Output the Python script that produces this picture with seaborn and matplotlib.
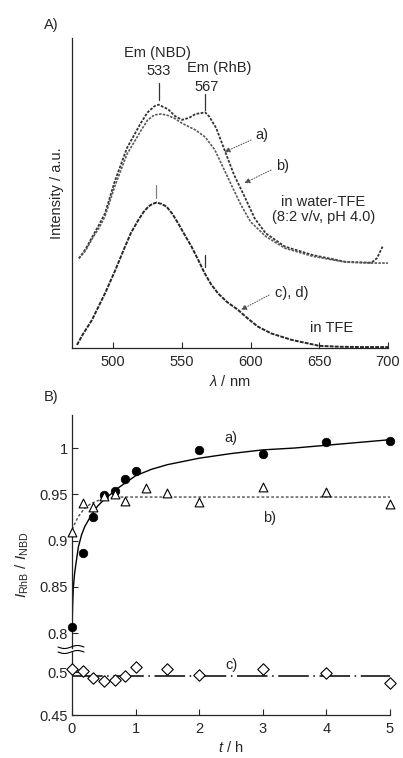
"""
Fluorescence spectra (A) and RhB/NBD intensity ratio vs time (B)
"""

import numpy as np
import pandas as pd
import matplotlib
matplotlib.use("Agg")
import matplotlib.pyplot as plt
import seaborn as sns

# ============================================================================
# DATA
# ============================================================================

# Panel A - emission spectra in water-TFE (intensity in arbitrary units)
wl_a = [475, 480, 485, 490, 494, 501, 510, 520, 525, 530, 533, 540, 545, 550, 555,
        560, 567, 570, 575, 581, 588, 595, 603, 611, 625, 645, 669, 688, 692, 696]
int_a = [0.289, 0.32, 0.36, 0.40, 0.434, 0.536, 0.645, 0.725, 0.76, 0.78, 0.785,
         0.77, 0.748, 0.736, 0.742, 0.755, 0.760, 0.746, 0.709, 0.639, 0.558, 0.494,
         0.418, 0.37, 0.327, 0.30, 0.278, 0.275, 0.29, 0.327]

wl_b = [475, 480, 485, 490, 494, 501, 510, 520, 525, 530, 535, 540, 545, 550, 555,
        560, 567, 574, 578, 586, 593, 600, 611, 625, 645, 669, 688, 700]
int_b = [0.289, 0.315, 0.355, 0.39, 0.425, 0.52, 0.625, 0.70, 0.735, 0.752, 0.755,
         0.75, 0.74, 0.725, 0.714, 0.703, 0.68, 0.639, 0.601, 0.526, 0.461, 0.407,
         0.36, 0.322, 0.296, 0.277, 0.274, 0.274]

# Panel A - emission spectra in TFE
wl_tfe = [473.6, 478, 484.5, 490, 494, 501.4, 508.6, 513, 518.3, 522, 525.5, 528.5,
          531.6, 535, 538.8, 543, 547.3, 552, 557, 562, 566.6, 571, 576.3, 583,
          590.8, 598, 605.3, 615, 630, 650, 665, 680, 700]
int_cd = [0.01, 0.045, 0.09, 0.14, 0.176, 0.25, 0.327, 0.372, 0.413, 0.438, 0.456,
          0.465, 0.469, 0.465, 0.456, 0.433, 0.402, 0.365, 0.327, 0.283, 0.241,
          0.207, 0.176, 0.148, 0.123, 0.095, 0.069, 0.047, 0.026, 0.007, 0.004,
          0.003, 0.003]

# Panel B - measured ratios
t_a = [0, 0.17, 0.33, 0.5, 0.67, 0.83, 1.0, 2, 3, 4, 5]
ratio_a = [0.807, 0.887, 0.925, 0.949, 0.954, 0.966, 0.975, 0.998, 0.993, 1.007, 1.008]

t_b = [0, 0.17, 0.33, 0.5, 0.67, 0.83, 1.17, 1.5, 2, 3, 4, 5]
ratio_b = [0.909, 0.941, 0.936, 0.948, 0.950, 0.943, 0.957, 0.951, 0.942, 0.958, 0.952, 0.940]

t_c = [0, 0.17, 0.33, 0.5, 0.67, 0.83, 1.0, 1.5, 2, 3, 4, 5]
ratio_c = [0.503, 0.501, 0.493, 0.489, 0.491, 0.495, 0.506, 0.503, 0.496, 0.503, 0.499, 0.487]

# Panel B - fitted curves
fit_t_a = [0, 0.01, 0.02, 0.04, 0.06, 0.1, 0.15, 0.2, 0.3, 0.4, 0.5, 0.75, 1, 1.25,
           1.5, 2, 2.5, 3, 3.5, 4, 4.5, 5]
fit_a = [0.80, 0.83, 0.848, 0.864, 0.874, 0.893, 0.906, 0.915, 0.927, 0.937, 0.944,
         0.958, 0.970, 0.977, 0.982, 0.989, 0.994, 0.998, 1.0, 1.003, 1.006, 1.009]

fit_t_b = [0, 0.1, 0.2, 0.3, 0.4, 0.5, 0.7, 1, 2, 3, 4, 5]
fit_b = [0.912, 0.926, 0.935, 0.940, 0.943, 0.945, 0.947, 0.947, 0.947, 0.947, 0.947, 0.947]

fit_t_c = [0, 5]
fit_c = [0.4957, 0.4957]

# ============================================================================
# STYLE
# ============================================================================

sns.set_theme(style="ticks")
plt.rcParams["font.family"] = ["Liberation Sans", "DejaVu Sans"]
plt.rcParams["mathtext.fontset"] = "custom"
plt.rcParams["mathtext.rm"] = "Liberation Sans"
plt.rcParams["mathtext.it"] = "Liberation Sans:italic"
plt.rcParams["font.size"] = 10.5
plt.rcParams["axes.linewidth"] = 0.9
plt.rcParams["xtick.direction"] = "in"
plt.rcParams["ytick.direction"] = "in"

FS = 10.5
W, H = 403, 758


def px_box(left, top, right, bottom):
    """axes rectangle from pixel edges"""
    return [left / W, 1 - bottom / H, (right - left) / W, (bottom - top) / H]


fig = plt.figure(figsize=(W / 100, H / 100), dpi=100)

# ============================================================================
# PANEL A
# ============================================================================

axA = fig.add_axes(px_box(72, 38, 388, 348))
df_a = pd.DataFrame({"wl": wl_a, "val": int_a})
df_b = pd.DataFrame({"wl": wl_b, "val": int_b})
df_cd = pd.DataFrame({"wl": wl_tfe, "val": int_cd})

sns.lineplot(data=df_a, x="wl", y="val", ax=axA, color="0.2", lw=1.3,
             linestyle=(0, (1.5, 0.8)))
sns.lineplot(data=df_b, x="wl", y="val", ax=axA, color="0.35", lw=1.2,
             linestyle=(0, (1.5, 0.8)))
sns.lineplot(data=df_cd, x="wl", y="val", ax=axA, color="0.15", lw=1.4,
             linestyle=(0, (2, 0.6)))

axA.set_xlim(470, 700)
axA.set_ylim(0, 1)
axA.set_xticks([500, 550, 600, 650, 700])
axA.set_yticks([])
axA.tick_params(axis="x", labelsize=FS, length=4, width=0.8, pad=5)
sns.despine(ax=axA)
axA.set_xlabel(r"$\lambda$ / nm", fontsize=FS, labelpad=4)
axA.set_ylabel("Intensity / a.u.", fontsize=FS, labelpad=6)

# peak markers and labels
axA.plot([533, 533], [0.80, 0.855], color="0.2", lw=0.9)
axA.plot([567, 567], [0.768, 0.82], color="0.2", lw=0.9)
axA.plot([531, 531], [0.484, 0.526], color="0.5", lw=0.9)
axA.plot([567, 567], [0.261, 0.30], color="0.2", lw=0.9)
axA.text(532.5, 0.952, "Em (NBD)", ha="center", va="center", fontsize=FS)
axA.text(533, 0.892, "533", ha="center", va="center", fontsize=FS)
axA.text(577, 0.902, "Em (RhB)", ha="center", va="center", fontsize=FS)
axA.text(568, 0.842, "567", ha="center", va="center", fontsize=FS)

arrow = dict(arrowstyle="-|>", color="0.3", lw=0.7, linestyle=":",
             mutation_scale=8, shrinkA=0, shrinkB=0)
axA.annotate("", xy=(580.9, 0.632), xytext=(600.4, 0.671), arrowprops=arrow)
axA.annotate("", xy=(595.4, 0.532), xytext=(614.9, 0.574), arrowprops=arrow)
axA.annotate("", xy=(593, 0.123), xytext=(613.5, 0.171), arrowprops=arrow)
axA.text(608, 0.687, "a)", ha="center", va="center", fontsize=FS)
axA.text(623, 0.587, "b)", ha="center", va="center", fontsize=FS)
axA.text(653, 0.471, "in water-TFE", ha="center", va="center", fontsize=FS)
axA.text(653, 0.423, "(8:2 v/v, pH 4.0)", ha="center", va="center", fontsize=FS)
axA.text(630, 0.177, "c), d)", ha="center", va="center", fontsize=FS)
axA.text(659, 0.064, "in TFE", ha="center", va="center", fontsize=FS)

fig.text(44 / W, 1 - 25 / H, "A)", fontsize=FS, va="center")

# ============================================================================
# PANEL B (broken y axis)
# ============================================================================

axB = fig.add_axes(px_box(72, 415, 390, 648))
axC = fig.add_axes(px_box(72, 652, 390, 715), sharex=axB)

sns.lineplot(x=fit_t_a, y=fit_a, ax=axB, color="black", lw=1.0)
sns.lineplot(x=fit_t_b, y=fit_b, ax=axB, color="0.3", lw=1.0,
             linestyle=(0, (2, 1.5)))
sns.scatterplot(x=t_a, y=ratio_a, ax=axB, marker="o", s=38, color="black",
                edgecolor="black", linewidth=0.5, clip_on=False, zorder=5)
sns.scatterplot(x=t_b, y=ratio_b, ax=axB, marker="^", s=40, facecolor="white",
                edgecolor="black", linewidth=0.8, clip_on=False, zorder=5)

sns.lineplot(x=fit_t_c, y=fit_c, ax=axC, color="black", lw=1.1,
             linestyle=(0, (20, 3, 1, 3)))
sns.scatterplot(x=t_c, y=ratio_c, ax=axC, marker="D", s=34, facecolor="white",
                edgecolor="black", linewidth=0.8, clip_on=False, zorder=5)

axB.set_xlim(0, 5)
axB.set_ylim(0.7838, 1.0357)
axC.set_ylim(0.45, 0.5233)

axB.set_yticks([0.8, 0.85, 0.9, 0.95, 1.0])
axB.set_yticklabels(["0.8", "0.85", "0.9", "0.95", "1"])
axC.set_yticks([0.45, 0.5])
axC.set_yticklabels(["0.45", "0.5"])
axC.set_xticks([0, 1, 2, 3, 4, 5])

axB.tick_params(axis="y", labelsize=FS, length=4, width=0.8, pad=3)
axB.tick_params(axis="x", bottom=False, labelbottom=False)
axC.tick_params(axis="both", labelsize=FS, length=4, width=0.8, pad=3)
axC.tick_params(axis="x", pad=5)

sns.despine(ax=axB, bottom=True)
sns.despine(ax=axC)
axB.set_xlabel("")
axC.set_xlabel(r"$t$ / h", fontsize=FS, labelpad=3)

axB.text(2.5, 1.011, "a)", ha="center", va="center", fontsize=FS)
axB.text(3.1, 0.924, "b)", ha="center", va="center", fontsize=FS)
axC.text(2.5, 0.5085, "c)", ha="center", va="center", fontsize=FS)

fig.text(22 / W, 1 - 565 / H, r"$I_{\mathrm{RhB}}$ / $I_{\mathrm{NBD}}$",
         rotation=90, ha="center", va="center", fontsize=FS + 0.5)
fig.text(44 / W, 1 - 397 / H, "B)", fontsize=FS, va="center")

# break marks on the y axis
xs = np.linspace(58, 84, 40)
for y0 in (647, 652):
    ys = y0 + 1.5 * np.sin((xs - 58) / 26 * 2 * np.pi)
    fig.add_artist(plt.Line2D(xs / W, 1 - ys / H, color="black", lw=0.8))

fig.savefig("out.png", dpi=100)
